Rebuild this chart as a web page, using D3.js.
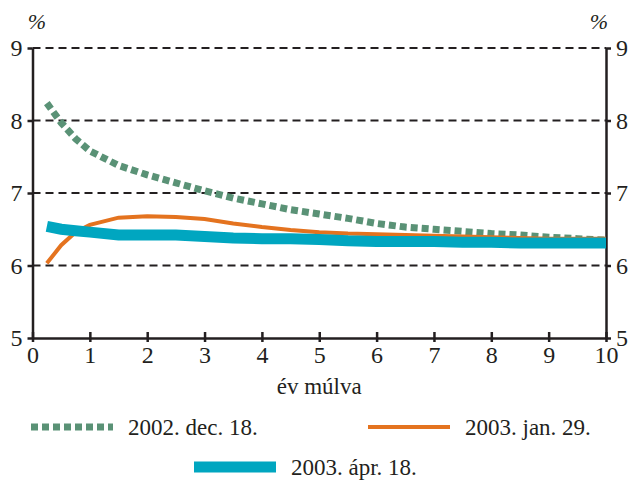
<!DOCTYPE html>
<html>
<head>
<meta charset="utf-8">
<script src="https://cdn.jsdelivr.net/npm/d3@7"></script>
<style>
  body { margin: 0; background: #fff; }
</style>
</head>
<body>
<div id="chart"></div>
<script>
const years = [0.25, 0.5, 0.75, 1, 1.5, 2, 2.5, 3, 3.5, 4, 4.5, 5, 5.5, 6, 6.5, 7, 7.5, 8, 8.5, 9, 9.5, 10];
const dec18 = [8.24, 7.97, 7.75, 7.58, 7.38, 7.25, 7.14, 7.03, 6.93, 6.85, 6.77, 6.71, 6.65, 6.58, 6.53, 6.5, 6.47, 6.44, 6.42, 6.39, 6.37, 6.35];
const jan29 = [6.03, 6.28, 6.46, 6.56, 6.66, 6.68, 6.67, 6.64, 6.58, 6.53, 6.49, 6.46, 6.44, 6.43, 6.42, 6.41, 6.4, 6.39, 6.38, 6.37, 6.37, 6.37];
const apr18 = [6.54, 6.5, 6.48, 6.46, 6.42, 6.42, 6.42, 6.4, 6.38, 6.37, 6.37, 6.36, 6.34, 6.33, 6.33, 6.33, 6.32, 6.32, 6.31, 6.31, 6.31, 6.31];
const xTicks = [0, 1, 2, 3, 4, 5, 6, 7, 8, 9, 10];
const yTicks = [5, 6, 7, 8, 9];
const seriesNames = ["2002. dec. 18.", "2003. jan. 29.", "2003. ápr. 18."];

const width = 634, height = 480;
const margin = {top: 48, right: 28, bottom: 142, left: 32.5};
const serif = "'Liberation Serif', 'Times New Roman', 'DejaVu Serif', serif";

const svg = d3.select("#chart").append("svg")
    .attr("width", width)
    .attr("height", height)
    .style("font-family", serif);

const x = d3.scaleLinear().domain([0, 10]).range([margin.left, width - margin.right]);
const y = d3.scaleLinear().domain([5, 9]).range([height - margin.bottom, margin.top]);

// dashed grid lines
svg.append("g")
    .selectAll("line")
    .data(yTicks.filter(d => d > 5))
    .enter()
    .append("line")
    .attr("x1", x(0))
    .attr("x2", x(10))
    .attr("y1", d => y(d))
    .attr("y2", d => y(d))
    .attr("stroke", "#231f20")
    .attr("stroke-width", 2.2)
    .attr("stroke-dasharray", "8,5");

// axes
const axisStyle = g => {
    g.attr("font-family", null).attr("font-size", null);
    g.select(".domain").attr("stroke", "#231f20").attr("stroke-width", 2.5);
    g.selectAll(".tick line").attr("stroke", "#231f20").attr("stroke-width", 2.5);
    g.selectAll("text")
        .style("font-family", serif)
        .style("font-size", "24px")
        .attr("fill", "#231f20");
};

svg.append("g")
    .attr("transform", "translate(0," + y(5) + ")")
    .call(d3.axisBottom(x).tickValues(xTicks).tickFormat(d3.format("d")).tickSize(4).tickSizeOuter(0).tickPadding(4))
    .call(axisStyle)
    .call(g => g.selectAll(".tick line").attr("y1", -6).attr("y2", 4));

svg.append("g")
    .attr("transform", "translate(" + x(0) + ",0)")
    .call(d3.axisLeft(y).tickValues(yTicks).tickFormat(d3.format("d")).tickSize(5).tickSizeOuter(0).tickPadding(5))
    .call(axisStyle);

svg.append("g")
    .attr("transform", "translate(" + x(10) + ",0)")
    .call(d3.axisRight(y).tickValues(yTicks).tickFormat(d3.format("d")).tickSize(5).tickSizeOuter(0).tickPadding(5))
    .call(axisStyle);

// % labels
svg.append("text").attr("x", 37).attr("y", 29).attr("text-anchor", "middle")
    .style("font-family", serif).style("font-size", "22px").style("font-style", "italic")
    .attr("fill", "#231f20").text("%");
svg.append("text").attr("x", 599).attr("y", 29).attr("text-anchor", "middle")
    .style("font-family", serif).style("font-size", "22px").style("font-style", "italic")
    .attr("fill", "#231f20").text("%");

// x title
svg.append("text")
    .attr("x", (x(0) + x(10)) / 2)
    .attr("y", 394)
    .attr("text-anchor", "middle")
    .style("font-family", serif)
    .style("font-size", "23px")
    .attr("fill", "#231f20")
    .text("év múlva");

const series = [
    {name: seriesNames[0], values: dec18, color: "#5a9276", width: 7, dash: "7,4"},
    {name: seriesNames[1], values: jan29, color: "#e4731f", width: 4, dash: null},
    {name: seriesNames[2], values: apr18, color: "#00a6c0", width: 11, dash: null}
];

const line = d3.line()
    .x((d, i) => x(years[i]))
    .y(d => y(d));

svg.append("g")
    .selectAll("path")
    .data(series)
    .enter()
    .append("path")
    .attr("d", d => line(d.values))
    .attr("fill", "none")
    .attr("stroke", d => d.color)
    .attr("stroke-width", d => d.width)
    .attr("stroke-dasharray", d => d.dash);

// legend
const legendPos = [
    {x: 31, y: 427},
    {x: 368, y: 427},
    {x: 194, y: 467}
];

const legend = svg.append("g")
    .selectAll("g")
    .data(series)
    .enter()
    .append("g")
    .attr("transform", (d, i) => "translate(" + legendPos[i].x + "," + legendPos[i].y + ")");

legend.append("line")
    .attr("x1", 0)
    .attr("x2", 82)
    .attr("stroke", d => d.color)
    .attr("stroke-width", d => d.width)
    .attr("stroke-dasharray", d => d.dash);

legend.append("text")
    .attr("x", 97)
    .attr("y", 8)
    .style("font-family", serif)
    .style("font-size", "23px")
    .attr("fill", "#231f20")
    .text(d => d.name);
</script>
</body>
</html>
